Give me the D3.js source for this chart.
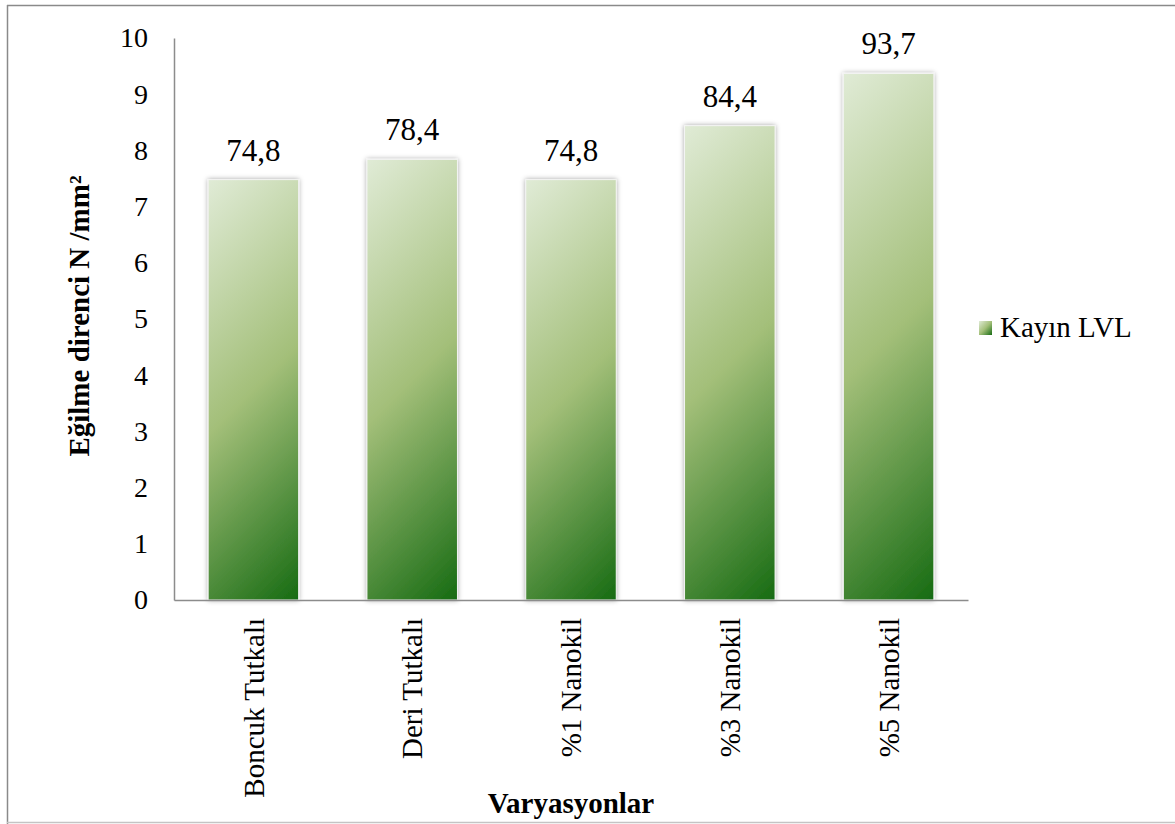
<!DOCTYPE html>
<html>
<head>
<meta charset="utf-8">
<script src="https://cdn.jsdelivr.net/npm/d3@7"></script>
<style>
  html, body { margin: 0; padding: 0; background: #fff; }
  svg { display: block; }
  text { font-family: "Liberation Serif", "Times New Roman", serif; fill: #000; }
</style>
</head>
<body>
<svg id="chart" width="1175" height="824"></svg>
<script>
// ---- data ----
const categories = ["Boncuk Tutkalı", "Deri Tutkalı", "%1 Nanokil", "%3 Nanokil", "%5 Nanokil"];
const values = [74.8, 78.4, 74.8, 84.4, 93.7];
const valueLabels = ["74,8", "78,4", "74,8", "84,4", "93,7"];
const tickValues = [0, 10, 20, 30, 40, 50, 60, 70, 80, 90, 100];
const tickLabels = ["0", "1", "2", "3", "4", "5", "6", "7", "8", "9", "10"];
const seriesName = "Kayın LVL";
const yTitle = "Eğilme direnci N /mm²";
const xTitle = "Varyasyonlar";

const gradStops = [["0%", "#e0ebd6"], ["50%", "#a3bf79"], ["100%", "#166b12"]];

const svg = d3.select("#chart");

// frame
svg.append("line").attr("x1", 7).attr("x2", 1175).attr("y1", 5.5).attr("y2", 5.5).attr("stroke", "#8a8a8a").attr("stroke-width", 1.5);
svg.append("line").attr("x1", 7.5).attr("x2", 7.5).attr("y1", 5).attr("y2", 824).attr("stroke", "#8a8a8a").attr("stroke-width", 1.5);
svg.append("line").attr("x1", 7).attr("x2", 1175).attr("y1", 822.5).attr("y2", 822.5).attr("stroke", "#c4c4c4").attr("stroke-width", 1.5);

const defs = svg.append("defs");

const x = d3.scaleBand().domain(categories).range([174, 968]).paddingInner(0.43).paddingOuter(0.215);
const y = d3.scaleLinear().domain([0, 100]).range([600, 38]);

// per-bar gradients (45° diagonal, light top-left to dark bottom-right)
values.forEach((v, i) => {
  const bx = x(categories[i]), by = y(v), bw = x.bandwidth(), bh = y(0) - y(v);
  const s = (bw + bh) / 2;
  const g = defs.append("linearGradient").attr("id", "barGrad" + i)
    .attr("gradientUnits", "userSpaceOnUse")
    .attr("x1", bx).attr("y1", by).attr("x2", bx + s).attr("y2", by + s);
  gradStops.forEach(st => g.append("stop").attr("offset", st[0]).attr("stop-color", st[1]));
});
const lg = defs.append("linearGradient").attr("id", "legGrad")
  .attr("x1", "0").attr("y1", "0").attr("x2", "1").attr("y2", "1");
gradStops.forEach(st => lg.append("stop").attr("offset", st[0]).attr("stop-color", st[1]));

const shadow = defs.append("filter").attr("id", "shadow")
  .attr("x", "-20%").attr("y", "-5%").attr("width", "140%").attr("height", "110%");
shadow.append("feDropShadow").attr("dx", 0).attr("dy", 0).attr("stdDeviation", 2.5)
  .attr("flood-color", "#000").attr("flood-opacity", 0.35);

// bars
svg.append("g").selectAll("rect").data(values).join("rect")
  .attr("x", (d, i) => x(categories[i]))
  .attr("y", d => y(d))
  .attr("width", x.bandwidth())
  .attr("height", d => y(0) - y(d))
  .attr("fill", (d, i) => "url(#barGrad" + i + ")")
  .attr("stroke", "#f4f4f4")
  .attr("stroke-width", 1)
  .attr("filter", "url(#shadow)");

// y axis
const yAxis = d3.axisLeft(y).tickValues(tickValues).tickSize(0).tickPadding(26)
  .tickFormat((d, i) => tickLabels[i]);
const gy = svg.append("g").attr("transform", "translate(174,0)").call(yAxis);
gy.select(".domain").attr("stroke", "#8c8c8c").attr("stroke-width", 1.5);
gy.selectAll("text").style("font-family", '"Liberation Serif", serif').style("font-size", "28px").attr("fill", "#000");

// x axis
const xAxis = d3.axisBottom(x).tickSize(0).tickFormat(d => d);
const gx = svg.append("g").attr("transform", "translate(0,600)").call(xAxis);
gx.select(".domain").attr("stroke", "#8c8c8c").attr("stroke-width", 1.5);
gx.selectAll("text")
  .style("font-family", '"Liberation Serif", serif').style("font-size", "29px").attr("fill", "#000")
  .attr("text-anchor", "end")
  .attr("transform", "rotate(-90)")
  .attr("x", -18).attr("y", 0).attr("dy", "0.35em");

// value labels
svg.append("g").selectAll("text").data(values).join("text")
  .attr("x", (d, i) => x(categories[i]) + x.bandwidth() / 2)
  .attr("y", d => y(d) - 19)
  .attr("text-anchor", "middle")
  .style("font-size", "31px")
  .text((d, i) => valueLabels[i]);

// y title
svg.append("text")
  .attr("transform", "translate(89,316) rotate(-90)")
  .attr("text-anchor", "middle")
  .style("font-size", "29px").style("font-weight", "bold")
  .text(yTitle);

// x title
svg.append("text")
  .attr("x", 571).attr("y", 813)
  .attr("text-anchor", "middle")
  .style("font-size", "29px").style("font-weight", "bold")
  .text(xTitle);

// legend
svg.append("rect").attr("x", 979).attr("y", 321).attr("width", 13).attr("height", 14)
  .attr("fill", "url(#legGrad)");
svg.append("text").attr("x", 1000).attr("y", 337)
  .style("font-size", "29px")
  .text(seriesName);
</script>
</body>
</html>
